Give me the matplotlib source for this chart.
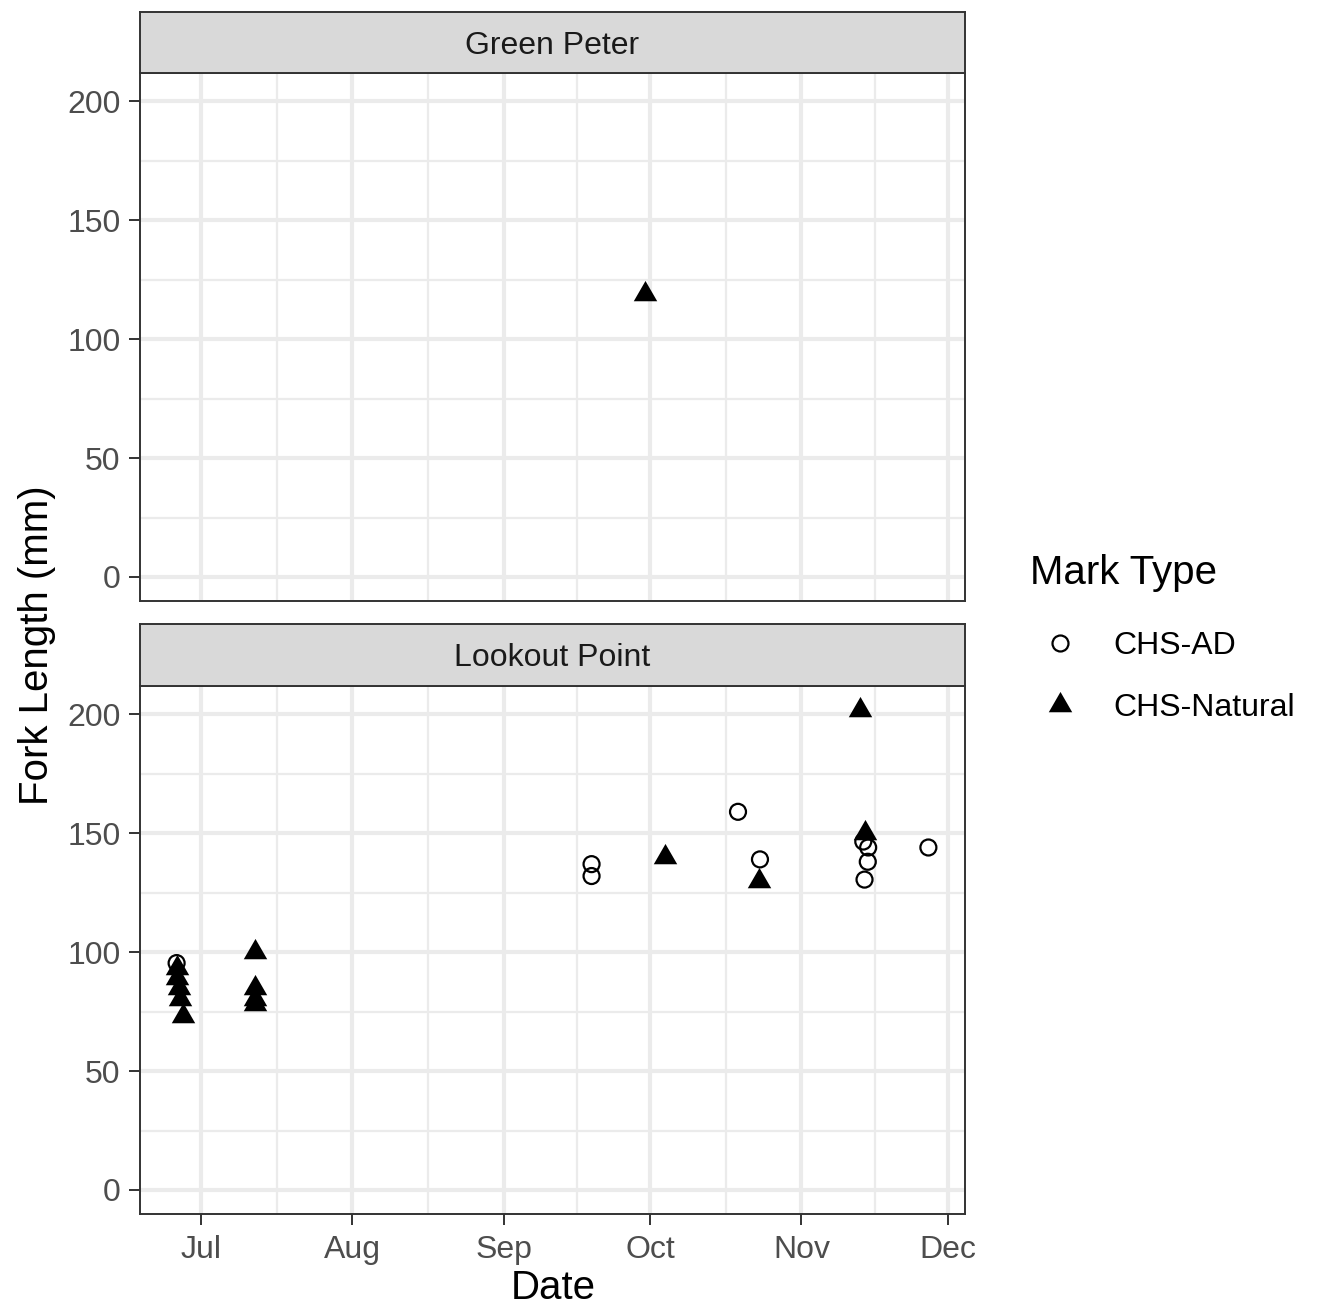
import numpy as np
import pandas as pd
import matplotlib
matplotlib.use("Agg")
import matplotlib.pyplot as plt
import matplotlib.dates as mdates
from matplotlib.lines import Line2D

# ---- data ----
PANELS = ["Green Peter", "Lookout Point"]

# Green Peter
gp_nat_date = ["2021-09-30 00:00"]
gp_nat_fl = [119]

# Lookout Point
lp_ad_date = ["2021-06-26 00:00", "2021-09-19 00:00", "2021-09-19 00:00",
              "2021-10-19 00:00", "2021-10-23 12:00", "2021-11-13 16:00",
              "2021-11-14 16:00", "2021-11-14 14:00", "2021-11-13 22:00",
              "2021-11-27 00:00"]
lp_ad_fl = [95.4, 137, 132, 159, 139, 146.5, 144, 138, 130.5, 144]

lp_nat_date = ["2021-06-26 00:00", "2021-06-26 02:00", "2021-06-26 10:00",
               "2021-06-26 17:00", "2021-06-27 07:00",
               "2021-07-12 00:00", "2021-07-12 00:00", "2021-07-12 00:00",
               "2021-07-12 00:00",
               "2021-10-04 00:00", "2021-10-23 05:00",
               "2021-11-13 02:00", "2021-11-14 00:00"]
lp_nat_fl = [93.4, 89.2, 85, 80.2, 73,
             100, 85, 80.5, 78,
             140, 130,
             201.8, 150]

MONTHS = ["2021-07-01", "2021-08-01", "2021-09-01", "2021-10-01",
          "2021-11-01", "2021-12-01"]
Y_TICKS = [0, 50, 100, 150, 200]
Y_MINOR = [25, 75, 125, 175]

# ---- style ----
W, H, DPI = 1319, 1305, 100
FONT = ["Liberation Sans", "DejaVu Sans"]
SMALL, BASE = 23, 29
GRID = "#EBEBEB"
BORDER = "#333333"
STRIP = "#D9D9D9"

TRI = [(0, 1.5551), (1.3468, -0.7776), (-1.3468, -0.7776)]  # R pch 17 shape


def d(s):
    return pd.to_datetime(s)


def style_panel(ax, show_x):
    x0 = d("2021-07-01") - pd.Timedelta(days=12.5)
    x1 = d("2021-07-01") + pd.Timedelta(days=156.5)
    ax.set_xlim(x0, x1)
    ax.set_ylim(-10.1, 211.9)

    majors = d(MONTHS)
    minors = majors[:-1] + (majors[1:] - majors[:-1]) / 2
    ax.set_xticks(majors)
    ax.set_xticks(minors, minor=True)
    ax.xaxis.set_major_formatter(mdates.DateFormatter("%b"))
    ax.set_yticks(Y_TICKS)
    ax.set_yticks(Y_MINOR, minor=True)

    ax.grid(which="major", color=GRID, lw=3.0, zorder=0)
    ax.grid(which="minor", color=GRID, lw=1.6, zorder=0)
    ax.set_axisbelow(True)

    for sp in ax.spines.values():
        sp.set_color(BORDER)
        sp.set_linewidth(1.4)

    ax.tick_params(which="minor", length=0)
    ax.tick_params(which="major", length=8, width=1.4, color=BORDER,
                   labelsize=SMALL, labelcolor="#4D4D4D", pad=6)
    ax.tick_params(axis="x", pad=7)
    if not show_x:
        ax.tick_params(axis="x", which="both", bottom=False, labelbottom=False)
    for lab in ax.get_xticklabels() + ax.get_yticklabels():
        lab.set_family(FONT)


def add_strip(fig, rect, text):
    sax = fig.add_axes(rect)
    sax.set_facecolor(STRIP)
    sax.set_xticks([])
    sax.set_yticks([])
    for sp in sax.spines.values():
        sp.set_color(BORDER)
        sp.set_linewidth(1.4)
    sax.text(0.5, 0.45, text, ha="center", va="center", fontsize=SMALL,
             color="#1A1A1A", family=FONT, transform=sax.transAxes)


def main():
    fig = plt.figure(figsize=(W / DPI, H / DPI), dpi=DPI)

    left, width = 140 / W, 825 / W
    ph = 528 / H
    ax_top = fig.add_axes([left, 1 - 601 / H, width, ph])
    ax_bot = fig.add_axes([left, 1 - 1214 / H, width, ph])
    add_strip(fig, [left, 1 - 73 / H, width, 61 / H], PANELS[0])
    add_strip(fig, [left, 1 - 686 / H, width, 62 / H], PANELS[1])

    mk_ad = dict(marker="o", s=11.5 ** 2, facecolors="none", edgecolors="black",
                 linewidths=1.6, zorder=3)
    mk_nat = dict(marker=TRI, s=19.5 ** 2, color="black", linewidths=0, zorder=3)

    ax_top.scatter(d(gp_nat_date), gp_nat_fl, **mk_nat)
    ax_bot.scatter(d(lp_ad_date), lp_ad_fl, **mk_ad)
    ax_bot.scatter(d(lp_nat_date), lp_nat_fl, **mk_nat)

    style_panel(ax_top, show_x=False)
    style_panel(ax_bot, show_x=True)

    fig.text(37 / W, 1 - 645 / H, "Fork Length (mm)", rotation=90,
             ha="center", va="center", fontsize=BASE, family=FONT)
    fig.text(553 / W, 1 - 1288 / H, "Date", ha="center", va="center",
             fontsize=BASE, family=FONT)

    handles = [
        Line2D([], [], ls="none", marker="o", markersize=11.5, mfc="none",
               mec="black", mew=1.6),
        Line2D([], [], ls="none", marker=TRI, markersize=19.5, color="black",
               mew=0),
    ]
    leg = fig.legend(handles, ["CHS-AD", "CHS-Natural"], title="Mark Type",
                     loc="upper left", bbox_to_anchor=(1030 / W, 1 - 554 / H),
                     frameon=False, alignment="left", borderpad=0,
                     borderaxespad=0, handlelength=1.875, handletextpad=0.72,
                     labelspacing=1.0, prop={"family": FONT, "size": SMALL},
                     title_fontproperties={"family": FONT, "size": BASE})
    # gap between the title and the first key
    leg._legend_box.sep = 0.89 * SMALL * DPI / 72

    fig.savefig("out.png", dpi=DPI)
    plt.close(fig)


if __name__ == "__main__":
    main()
